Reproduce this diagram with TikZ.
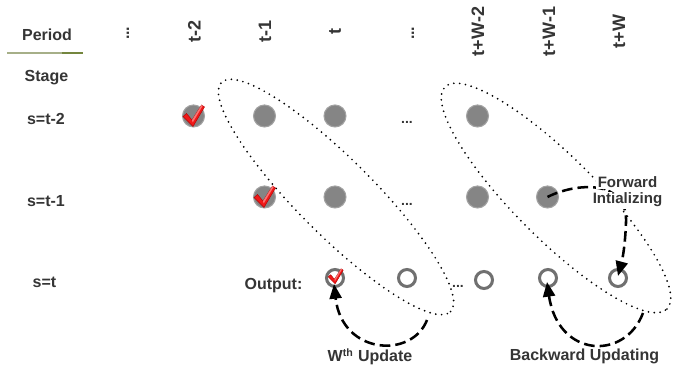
\documentclass[tikz,border=0pt]{standalone}
\usepackage{fontspec}
\setmainfont{Liberation Sans}
\usetikzlibrary{arrows.meta}
\definecolor{txt}{HTML}{353535}
\definecolor{ballgray}{HTML}{858585}
\definecolor{ballrim}{HTML}{A2A2A2}
\definecolor{ringgray}{HTML}{707070}
\definecolor{chkred}{HTML}{F01818}
\definecolor{chkdark}{HTML}{B00000}
\definecolor{chklight}{HTML}{FF8A8A}
\definecolor{linelight}{HTML}{A6AF88}
\definecolor{linedark}{HTML}{74863E}
\tikzset{
  chk/.pic={
    \fill[chkred, draw=chkdark, line width=0.3pt]
      (-10.5,-0.5) -- (-7,2.5) -- (-1.5,-4) -- (8,11) -- (11,9) -- (-0.5,-10.5) -- cycle;
    \fill[chklight, opacity=0.8] (-1.5,-4) -- (8,11) -- (9.2,10.2) -- (-0.8,-6.5) -- cycle;
  }
}
\begin{document}
\begin{tikzpicture}[x=0.75pt,y=0.75pt,
  lbl/.style={font=\fontsize{12}{14}\selectfont\bfseries, text=txt, inner sep=1pt},
  smlbl/.style={font=\fontsize{11.3}{13}\selectfont\bfseries, text=txt, inner sep=1pt},
  hdr/.style={font=\fontsize{13.5}{15}\selectfont\bfseries, text=txt, inner sep=1pt, rotate=90},
  ball/.style={circle, fill=ballgray, draw=ballrim, line width=0.8pt, minimum size=16.5pt, inner sep=0pt},
  ring/.style={circle, draw=ringgray, line width=2.25pt, minimum size=12.75pt, inner sep=0pt},
  loopline/.style={line width=1.45pt, line cap=round, dash pattern=on 0pt off 4.4pt},
  flow/.style={line width=1.9pt, dash pattern=on 8pt off 3.8pt, -{Triangle[length=11pt,width=9pt]}}
]
\fill[white] (0,0) rectangle (689,373);
\useasboundingbox (0,0) rectangle (689,373);

% header row
\node[lbl, anchor=base] (period) at (47,332) {Period};
\draw[linelight, line width=1.5pt] (7,320) -- (62,320);
\draw[linedark, line width=1.5pt] (62,320) -- (83,320);
\node[hdr, anchor=base, font=\fontsize{12}{14}\selectfont\bfseries] (hd1) at (129,339.7) {...};
\node[hdr] (h1) at (194.5,341.5) {t-2};
\node[hdr] (h2) at (265,341.5) {t-1};
\node[hdr] (h3) at (335,341.5) {t};
\node[hdr, anchor=base, font=\fontsize{12}{14}\selectfont\bfseries] (hd2) at (414,339.7) {...};
\node[hdr] (h5) at (478,341.5) {t+W-2};
\node[hdr] (h6) at (549,341.5) {t+W-1};
\node[hdr] (h7) at (619,341.5) {t+W};

% row labels
\node[lbl, anchor=base] (stage) at (46.5,291) {Stage};
\node[lbl, anchor=base] (s2) at (46,248) {s=t-2};
\node[lbl, anchor=base] (s1) at (46,166) {s=t-1};
\node[lbl, anchor=base] (s0) at (44.5,85) {s=t};
\node[lbl, anchor=base] (out) at (273.5,83) {Output:};

% dotted loops
\draw[loopline, rotate around={-45:(336,176)}] (336,176) ellipse [x radius=162, y radius=38];
\draw[loopline, rotate around={-45:(556,175)}] (556,175) ellipse [x radius=157, y radius=41];

% row s=t-2
\node[ball] (c11) at (193.5,257) {};
\node[ball] (c12) at (264.5,257) {};
\node[ball] (c13) at (335,257) {};
\node[lbl, anchor=base, font=\fontsize{10.5}{12}\selectfont\bfseries] (e1) at (407,249.5) {...};
\node[ball] (c15) at (477.5,257) {};
% row s=t-1
\node[ball] (c22) at (264.5,176) {};
\node[ball] (c23) at (335,176) {};
\node[lbl, anchor=base, font=\fontsize{10.5}{12}\selectfont\bfseries] (e2) at (407,167.5) {...};
\node[ball] (c25) at (477.5,176) {};
\node[ball] (c26) at (547.5,176) {};
% row s=t
\node[ring] (r3) at (335,95) {};
\node[ring] (r4) at (407,95) {};
\node[lbl, anchor=base, font=\fontsize{10.5}{12}\selectfont\bfseries] (e3) at (458,85.5) {...};
\node[ring] (r5) at (484,93) {};
\node[ring] (r6) at (548,95) {};
\node[ring] (r7) at (618,95) {};

% check marks
\pic at (c11.center) {chk};
\pic at (c22.center) {chk};
\pic[scale=0.7] at ([shift={(0.5,1.5)}]r3.center) {chk};

% arrows
\coordinate (ws) at (427,53);
\coordinate (bs) at (643,60);
\draw[flow] (ws) .. controls (412,14) and (342,18) .. ([shift={(-1,-6)}]r3.center);
\draw[flow] (bs) .. controls (625,12) and (558,15) .. ([shift={(-1,-4)}]r6.center);
\draw[flow] (c26.center) .. controls (575,190) and (628,195) .. (626,150)
   .. controls (625,125) and (622,112) .. ([shift={(0,2)}]r7.center);

% labels on arrows
\node[smlbl, anchor=base, fill=white] (fw1) at (627.5,185) {Forward};
\node[smlbl, anchor=base, fill=white] (fw2) at (627.5,169) {Intializing};
\node[lbl, anchor=base] (wu) at (370,11) {W\textsuperscript{th} Update};
\node[lbl, anchor=base] (bu) at (584.5,12) {Backward Updating};
\end{tikzpicture}
\end{document}
